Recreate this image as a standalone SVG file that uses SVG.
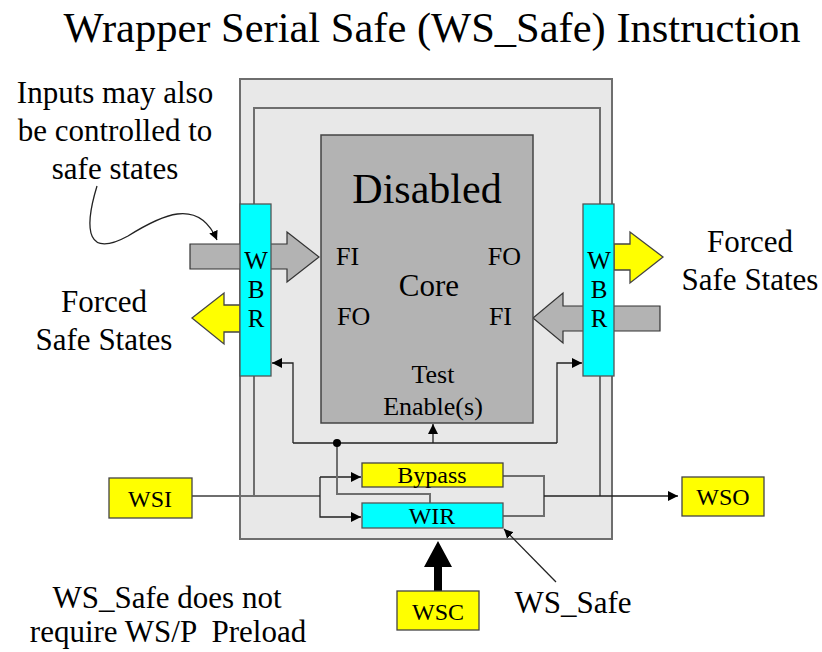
<svg xmlns="http://www.w3.org/2000/svg" width="822" height="652" viewBox="0 0 822 652">
  <style>
    text { font-family: "Liberation Serif", "Times New Roman", serif; fill: #000; }
    .t31 { font-size: 31px; }
    .t26 { font-size: 26px; }
    .t25 { font-size: 25px; }
    .t24 { font-size: 24px; }
    .mid { text-anchor: middle; }
    .wire { fill: none; stroke: #222; stroke-width: 1.3; }
    .gwire { fill: none; stroke: #6e6e6e; stroke-width: 2; }
    .cyan { fill: #00ffff; stroke: #555; stroke-width: 1.3; }
    .yel { fill: #ffff00; stroke: #444; stroke-width: 1.3; }
    .grayarrow { fill: #b3b3b3; stroke: #333; stroke-width: 1.2; }
  </style>
  <defs>
    <marker id="ah" viewBox="0 0 10 10" refX="10" refY="5" markerWidth="10" markerHeight="10" markerUnits="userSpaceOnUse" orient="auto">
      <path d="M0,0 L10,5 L0,10 Z" fill="#000"/>
    </marker>
    <marker id="ahs" viewBox="0 0 10 10" refX="10" refY="5" markerWidth="9" markerHeight="9" markerUnits="userSpaceOnUse" orient="auto">
      <path d="M0,0 L10,5 L0,10 Z" fill="#000"/>
    </marker>
  </defs>

  <!-- title -->
  <text x="432" y="42" class="mid" font-size="42.5">Wrapper Serial Safe (WS_Safe) Instruction</text>

  <!-- wrapper boundary -->
  <g id="wrapper">
    <rect x="240" y="79" width="372" height="460" fill="#e8e8e8" stroke="#6e6e6e" stroke-width="2"/>
  </g>

  <!-- data arrows passing through the boundary registers -->
  <g id="io-arrows">
    <path class="grayarrow" d="M190,244 L287,244 L287,232 L319,257 L287,282 L287,269 L190,269 Z"/>
    <path class="yel" d="M240,305 L224,305 L224,293 L192,318 L224,344 L224,332 L240,332 Z"/>
    <path class="yel" d="M614,244 L630,244 L630,232 L663,257 L630,283 L630,270 L614,270 Z"/>
    <path class="grayarrow" d="M660,306 L563,306 L563,293 L533,318 L563,343 L563,331 L660,331 Z"/>
    <!-- WSC control arrow -->
    <path d="M434,591 L434,567 L424,567 L438,541 L452,567 L442,567 L442,591 Z" fill="#000"/>
  </g>

  <!-- connectors -->
  <g id="connectors">
    <!-- boundary scan chain -->
    <polyline class="gwire" points="254,204 254,108 600,108 600,204"/>
    <line class="gwire" x1="254" y1="376" x2="254" y2="496"/>
    <line class="gwire" x1="600" y1="376" x2="600" y2="496"/>
    <line class="gwire" x1="192" y1="496" x2="320" y2="496"/>
    <polyline class="wire" points="320,496 320,477"/>
    <polyline class="wire" points="320,477 361,477" marker-end="url(#ah)"/>
    <polyline class="wire" points="320,496 320,517 361,517" marker-end="url(#ah)"/>
    <!-- outputs of bypass and WIR to WSO -->
    <polyline class="gwire" points="503,476 544,476 544,516 503,516"/>
    <polyline class="wire" points="544,496 678,496" marker-end="url(#ah)"/>
    <!-- test enable distribution from WIR -->
    <polyline class="gwire" points="430,503 430,494 337,494 337,443"/>
    <polyline class="wire" points="293,443 557,443"/>
    <polyline class="wire" points="433,443 433,424" marker-end="url(#ah)"/>
    <polyline class="wire" points="293,443 293,363 272,363" marker-end="url(#ah)"/>
    <polyline class="wire" points="557,443 557,363 582,363" marker-end="url(#ah)"/>
    <circle cx="337" cy="443" r="4" fill="#000"/>
    <!-- annotations -->
    <path class="wire" d="M97,186 C83,232 88,258 128,236 C160,216 198,196 217,240" marker-end="url(#ahs)"/>
    <line class="wire" x1="556" y1="582" x2="504" y2="529" marker-end="url(#ahs)"/>
  </g>

  <!-- core -->
  <g id="core">
    <rect x="321" y="135" width="212" height="288" fill="#b3b3b3" stroke="#444" stroke-width="1.5"/>
    <text x="427" y="203" class="mid" font-size="42">Disabled</text>
    <text x="336" y="265" class="t26">FI</text>
    <text x="521" y="265" class="t26" text-anchor="end">FO</text>
    <text x="429" y="296" class="mid" font-size="31">Core</text>
    <text x="337" y="325" class="t26">FO</text>
    <text x="512" y="325" class="t26" text-anchor="end">FI</text>
    <text x="433" y="383" class="mid t26">Test</text>
    <text x="433" y="415" class="mid t26">Enable(s)</text>
  </g>

  <!-- boundary registers -->
  <g id="wbr-left">
    <rect class="cyan" x="240" y="204" width="31" height="172"/>
    <text x="256" y="269" class="mid t25">W</text>
    <text x="256" y="298" class="mid t25">B</text>
    <text x="256" y="327" class="mid t25">R</text>
  </g>
  <g id="wbr-right">
    <rect class="cyan" x="583" y="204" width="31" height="172"/>
    <text x="599" y="269" class="mid t25">W</text>
    <text x="599" y="298" class="mid t25">B</text>
    <text x="599" y="327" class="mid t25">R</text>
  </g>

  <g id="bypass">
    <rect class="yel" x="362" y="463" width="141" height="24"/>
    <text x="432" y="483" class="mid t24">Bypass</text>
  </g>
  <g id="wir">
    <rect class="cyan" x="362" y="503" width="141" height="25"/>
    <text x="432" y="524" class="mid t24">WIR</text>
  </g>

  <g id="wsi">
    <rect class="yel" x="109" y="478" width="83" height="40"/>
    <text x="150" y="507" class="mid t24">WSI</text>
  </g>
  <g id="wso">
    <rect class="yel" x="682" y="477" width="82" height="39"/>
    <text x="723" y="505" class="mid t24">WSO</text>
  </g>
  <g id="wsc">
    <rect class="yel" x="397" y="591" width="82" height="39"/>
    <text x="438" y="620" class="mid t24">WSC</text>
  </g>

  <!-- labels -->
  <g id="labels">
    <text x="115" y="103" class="mid t31">Inputs may also</text>
    <text x="115" y="141" class="mid t31">be controlled to</text>
    <text x="115" y="179" class="mid t31">safe states</text>
    <text x="104" y="312" class="mid t31">Forced</text>
    <text x="104" y="350" class="mid t31">Safe States</text>
    <text x="750" y="252" class="mid t31">Forced</text>
    <text x="750" y="290" class="mid t31">Safe States</text>
    <text x="573" y="613" class="mid t31">WS_Safe</text>
    <text x="167" y="608" class="mid t31">WS_Safe does not</text>
    <text x="168" y="642" class="mid t31" xml:space="preserve">require WS/P  Preload</text>
  </g>
</svg>
